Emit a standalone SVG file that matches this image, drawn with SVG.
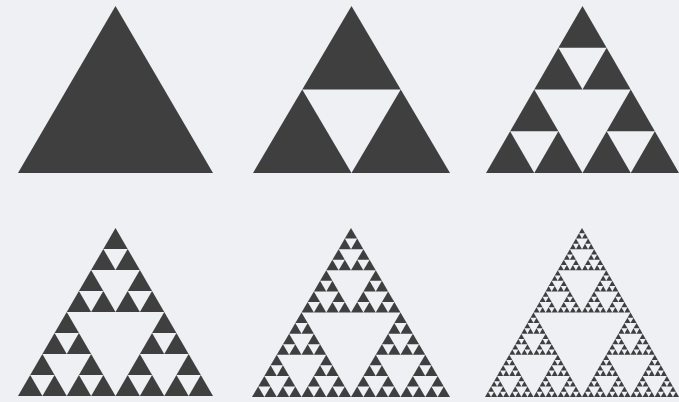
<svg xmlns="http://www.w3.org/2000/svg" width="679" height="402" viewBox="0 0 679 402">
  <style>
    .bg { fill: #eff0f3; }
    .tri { fill: #3f3f3f; }
  </style>
  <defs>
    <polygon id="L0" class="tri" points="0.5,0 0,1 1,1"/>
    <g id="L1">
      <use href="#L0" transform="translate(0.25,0) scale(0.5)"/>
      <use href="#L0" transform="translate(0,0.5) scale(0.5)"/>
      <use href="#L0" transform="translate(0.5,0.5) scale(0.5)"/>
    </g>
    <g id="L2">
      <use href="#L1" transform="translate(0.25,0) scale(0.5)"/>
      <use href="#L1" transform="translate(0,0.5) scale(0.5)"/>
      <use href="#L1" transform="translate(0.5,0.5) scale(0.5)"/>
    </g>
    <g id="L3">
      <use href="#L2" transform="translate(0.25,0) scale(0.5)"/>
      <use href="#L2" transform="translate(0,0.5) scale(0.5)"/>
      <use href="#L2" transform="translate(0.5,0.5) scale(0.5)"/>
    </g>
    <g id="L4">
      <use href="#L3" transform="translate(0.25,0) scale(0.5)"/>
      <use href="#L3" transform="translate(0,0.5) scale(0.5)"/>
      <use href="#L3" transform="translate(0.5,0.5) scale(0.5)"/>
    </g>
    <g id="L5">
      <use href="#L4" transform="translate(0.25,0) scale(0.5)"/>
      <use href="#L4" transform="translate(0,0.5) scale(0.5)"/>
      <use href="#L4" transform="translate(0.5,0.5) scale(0.5)"/>
    </g>
  </defs>
  <rect class="bg" x="0" y="0" width="679" height="402"/>
  <g id="stage0"><use href="#L0" transform="translate(18,6) scale(195,167)"/></g>
  <g id="stage1"><use href="#L1" transform="translate(253,6) scale(197,167)"/></g>
  <g id="stage2"><use href="#L2" transform="translate(486,6) scale(193,167)"/></g>
  <g id="stage3"><use href="#L3" transform="translate(18,228) scale(195,168)"/></g>
  <g id="stage4"><use href="#L4" transform="translate(252,228) scale(198,169)"/></g>
  <g id="stage5"><use href="#L5" transform="translate(485,228) scale(194,169)"/></g>
</svg>
